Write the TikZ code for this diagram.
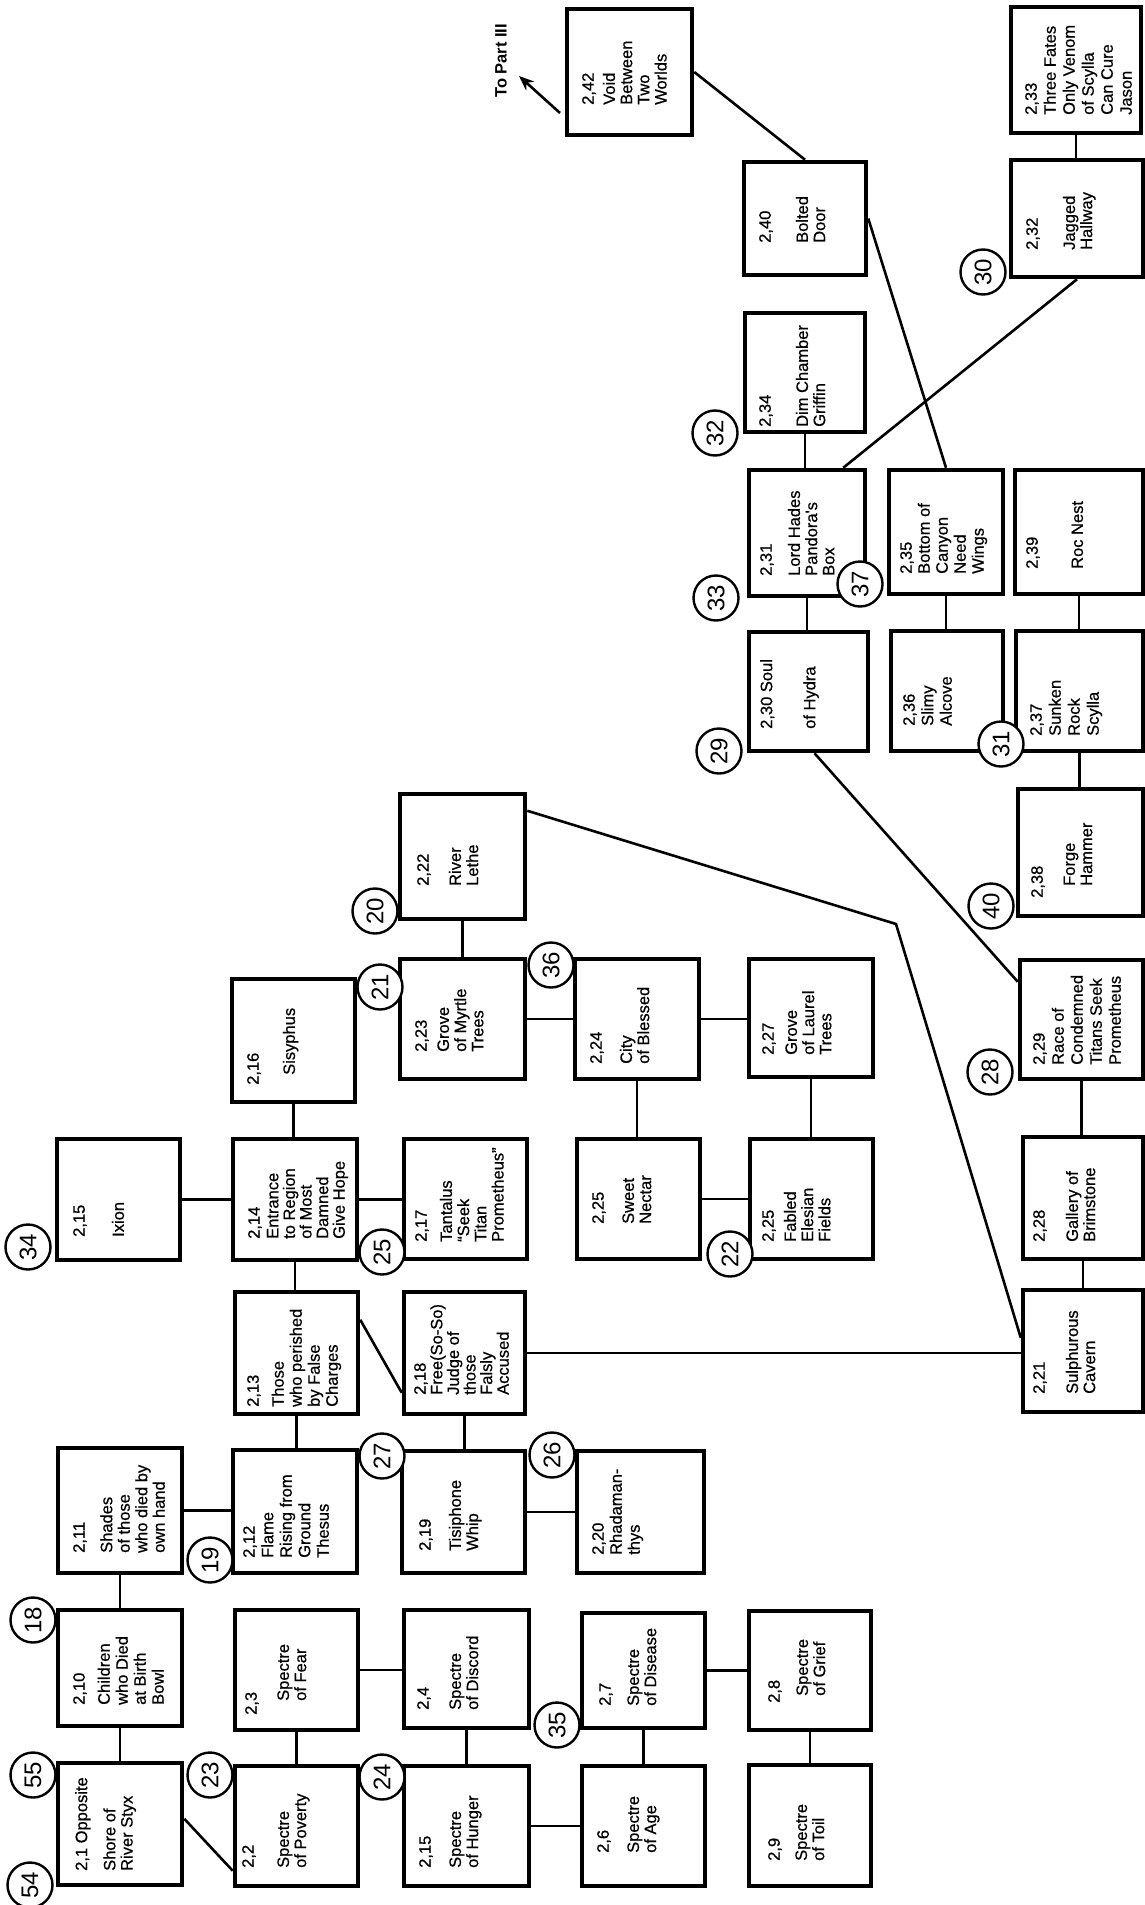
\documentclass[tikz,border=0pt]{standalone}
\usepackage{fontspec}
\setmainfont{Liberation Sans}
\newfontfamily\medfont{Liberation Sans}[FakeBold=0.6]
\usetikzlibrary{arrows.meta,calc}
\newcommand\bx[5]{\node[box,minimum width=#4pt,minimum height=#5pt] (#1) at (#2,#3) {};}
\newcommand\vcon[2]{\draw[con] (#1.south) -- (#1.south |- #2.north);}
\newcommand\hcon[2]{\draw[con] (#1.east) -- (#1.east -| #2.west);}
\begin{document}
\begin{tikzpicture}[x=1pt,y=-1pt,
  box/.style={draw, line width=4.5pt, rectangle, inner sep=0pt},
  con/.style={line width=2.6pt},
  txt/.style={rotate=90, anchor=north west, inner sep=0pt, align=left, font=\medfont\fontsize{16.5}{17.2}\selectfont},
  num/.style={circle, draw, fill=white, line width=2.4pt, minimum size=45pt, inner sep=0pt, rotate=90, font=\fontsize{24}{24}\selectfont}]
\useasboundingbox (0,0) rectangle (1145,1905);
\fill[white] (0,0) rectangle (1145,1905);

% ---------- boxes ----------
\bx{b242}{629.5}{72}{125}{126}
\bx{b240}{805}{218.5}{122}{113}
\bx{b234}{805}{372.5}{120}{119}
\bx{b233}{1076}{70}{130}{126}
\bx{b232}{1077}{218.5}{132}{117}
\bx{b231}{807}{533}{116}{126}
\bx{b230}{808.5}{691.5}{119}{119}
\bx{b235}{946}{532}{114}{124}
\bx{b236}{947}{691}{112}{120}
\bx{b239}{1079}{532}{128}{124}
\bx{b237}{1079.5}{691}{127}{120}
\bx{b238}{1080.5}{852.5}{125}{127}
\bx{b222}{462.5}{856.5}{125}{125}
\bx{b223}{462.5}{1019}{125}{120}
\bx{b224}{637}{1019}{124}{120}
\bx{b227}{811}{1018}{124}{118}
\bx{b229}{1081.5}{1019.5}{123}{119}
\bx{b215}{118.5}{1199.5}{123}{121}
\bx{b214}{295}{1199.5}{124}{121}
\bx{b216}{293.5}{1040.5}{123}{123}
\bx{b217}{465.5}{1199}{123}{120}
\bx{b225a}{638.5}{1199}{123}{120}
\bx{b225b}{811.5}{1199}{123}{120}
\bx{b228}{1083}{1198}{120}{122}
\bx{b213}{296.5}{1353}{123}{122}
\bx{b218}{464.5}{1353}{121}{122}
\bx{b221}{1083}{1351}{120}{122}
\bx{b211}{120}{1510.5}{124}{125}
\bx{b212}{295}{1511.5}{124}{123}
\bx{b219}{463.5}{1512}{123}{122}
\bx{b220}{640.5}{1512}{127}{122}
\bx{b210}{120}{1668}{124}{116}
\bx{b203}{296.5}{1670}{123}{120}
\bx{b204}{466.5}{1669}{125}{118}
\bx{b207}{643.5}{1670.5}{123}{115}
\bx{b208}{810}{1670.5}{122}{119}
\bx{b201}{120}{1824}{124}{122}
\bx{b202}{296.5}{1826}{123}{120}
\bx{b215h}{466.5}{1826}{125}{120}
\bx{b206}{643.5}{1826}{123}{120}
\bx{b209}{810}{1825.5}{122}{121}

% ---------- straight connectors ----------
\vcon{b233}{b232}
\vcon{b234}{b231}
\vcon{b231}{b230}
\vcon{b235}{b236}
\vcon{b239}{b237}
\vcon{b237}{b238}
\vcon{b222}{b223}
\vcon{b224}{b225a}
\vcon{b227}{b225b}
\vcon{b229}{b228}
\vcon{b228}{b221}
\vcon{b216}{b214}
\vcon{b214}{b213}
\vcon{b213}{b212}
\vcon{b218}{b219}
\vcon{b211}{b210}
\vcon{b210}{b201}
\vcon{b203}{b202}
\vcon{b204}{b215h}
\vcon{b207}{b206}
\vcon{b208}{b209}
\hcon{b223}{b224}
\hcon{b224}{b227}
\hcon{b225a}{b225b}
\hcon{b215}{b214}
\hcon{b214}{b217}
\hcon{b211}{b212}
\hcon{b219}{b220}
\hcon{b203}{b204}
\hcon{b215h}{b206}
\hcon{b207}{b208}

% ---------- slanted connectors ----------
\coordinate (bend) at (896,924);
\draw[con] (b242.east) -- (b240.north);
\draw[con] (b240.east) -- (b235.north);
\draw[con] (b232.south) -- ($(b231.north east)+(-24,0)$);
\draw[con] ($(b230.south)+(6,0)$) -- ($(b229.north west)+(0,24)$);
\draw[con] ($(b222.north east)+(0,19)$) -- (bend) -- ($(b221.north west)+(0,50)$);
\draw[con] (b218.east) -- (b218.east -| b221.west);
\draw[con] ($(b213.north east)+(0,30)$) -- ($(b218.north west)+(0,103)$);
\draw[con] ($(b201.north east)+(0,58)$) -- ($(b202.north west)+(0,107)$);

% ---------- arrow to part III ----------
\coordinate (arrtail) at (560,113);
\coordinate (arrtip) at (519,76);
\draw[con,-{Stealth[length=15pt,width=12pt]}] (arrtail) -- (arrtip);
\node[txt,font=\fontsize{16.5}{17.2}\selectfont\bfseries] (tpart) at (495,98) {To Part III};

% ---------- texts ----------
\node[txt] (t242) at (582,105) {2,42\\[4pt]Void\\Between\\Two\\Worlds};
\node[txt] (t240) at (759,243) {2,40\\[20pt]Bolted\\Door};
\node[txt] (t234) at (759,427) {2,34\\[20pt]Dim Chamber\\Griffin};
\node[txt,font=\medfont\fontsize{16.5}{19}\selectfont] (t233) at (1025,115) {2,33\\Three Fates\\Only Venom\\of Scylla\\Can Cure\\Jason};
\node[txt] (t232) at (1026,250) {2,32\\[20pt]Jagged\\Hallway};
\node[txt] (t231) at (760,576) {2,31\\[11pt]Lord Hades\\Pandora's\\Box};
\node[txt] (t230) at (760,729) {2,30 Soul\\[26pt]of Hydra};
\node[txt,font=\medfont\fontsize{16.5}{18}\selectfont] (t235) at (900,574) {2,35\\Bottom of\\Canyon\\Need\\Wings};
\node[txt,font=\medfont\fontsize{16.5}{18.5}\selectfont] (t236) at (903,726) {2,36\\Slimy\\Alcove};
\node[txt] (t239) at (1026,569) {2,39\\[28pt]Roc Nest};
\node[txt,font=\medfont\fontsize{16.5}{19}\selectfont] (t237) at (1030,736) {2,37\\Sunken\\Rock\\Scylla};
\node[txt] (t238) at (1031,898) {2,38\\[15pt]\hspace*{12pt}Forge\\\hspace*{12pt}Hammer};
\node[txt] (t222) at (417,886) {2,22\\[15pt]River\\Lethe};
\node[txt] (t223) at (415,1052) {2,23\\[5pt]Grove\\of Myrtle\\Trees};
\node[txt] (t224) at (590,1064) {2,24\\[13pt]City\\of Blessed};
\node[txt] (t227) at (762,1055) {2,27\\[6pt]Grove\\of Laurel\\Trees};
\node[txt,font=\medfont\fontsize{16.5}{19}\selectfont] (t229) at (1033,1065) {2,29\\Race of\\Condemned\\Titans Seek\\Prometheus};
\node[txt] (t215) at (73,1237) {2,15\\[22pt]Ixion};
\node[txt,font=\medfont\fontsize{16.5}{16.6}\selectfont] (t214) at (248,1239) {2,14\\[2pt]Entrance\\to Region\\of Most\\Damned\\Give Hope};
\node[txt] (t216) at (247,1085) {2,16\\[19pt]\hspace*{10pt}Sisyphus};
\node[txt] (t217) at (415,1242) {2,17\\[8pt]Tantalus\\“Seek\\Titan\\Prometheus”};
\node[txt] (t225a) at (592,1224) {2,25\\[13pt]Sweet\\Nectar};
\node[txt] (t225b) at (762,1242) {2,25\\[5pt]Fabled\\Elesian\\Fields};
\node[txt] (t228) at (1033,1242) {2,28\\[16pt]Gallery of\\Brimstone};
\node[txt,font=\medfont\fontsize{16.5}{18}\selectfont] (t213) at (247,1407) {2,13\\[7pt]Those\\who perished\\by False\\Charges};
\node[txt,font=\medfont\fontsize{16.5}{16.6}\selectfont] (t218) at (414,1395) {2,18\\Free(So-So)\\Judge of\\those\\Falsly\\Accused};
\node[txt] (t221) at (1033,1394) {2,21\\[16pt]Sulphurous\\Cavern};
\node[txt,font=\medfont\fontsize{16.5}{17.5}\selectfont] (t211) at (73,1553) {2,11\\[10pt]Shades\\of those\\who died by\\own hand};
\node[txt,font=\medfont\fontsize{16.5}{18.5}\selectfont] (t212) at (243,1558) {2,12\\Flame\\Rising from\\Ground\\Thesus};
\node[txt] (t219) at (419,1551) {2,19\\[13pt]Tisiphone\\Whip};
\node[txt,font=\medfont\fontsize{16.5}{18}\selectfont] (t220) at (592,1555) {2,20\\Rhadaman-\\thys};
\node[txt,font=\medfont\fontsize{16.5}{18}\selectfont] (t210) at (73,1705) {2,10\\[7pt]Children\\who Died\\at Birth\\Bowl};
\node[txt] (t203) at (245,1715) {2,3\\[15pt]\hspace*{14pt}Spectre\\\hspace*{14pt}of Fear};
\node[txt] (t204) at (417,1710) {2,4\\[15pt]Spectre\\of Discord};
\node[txt] (t207) at (599,1706) {2,7\\[11pt]Spectre\\of Disease};
\node[txt] (t208) at (768,1703) {2,8\\[11pt]\hspace*{7pt}Spectre\\\hspace*{7pt}of Grief};
\node[txt] (t201) at (75,1871) {2,1 Opposite\\[11pt]Shore of\\River Styx};
\node[txt] (t202) at (242,1868) {2,2\\[18pt]Spectre\\of Poverty};
\node[txt] (t215h) at (419,1868) {2,15\\[13pt]Spectre\\of Hunger};
\node[txt] (t206) at (597,1853) {2,6\\[13pt]Spectre\\of Age};
\node[txt] (t209) at (768,1861) {2,9\\[10pt]Spectre\\of Toil};

% ---------- circled numbers ----------
\node[num] (c54) at (30,1885) {54};
\node[num] (c55) at (33,1775) {55};
\node[num] (c18) at (33,1620) {18};
\node[num] (c19) at (210,1560) {19};
\node[num] (c23) at (210,1775) {23};
\node[num] (c24) at (382,1777) {24};
\node[num] (c27) at (382,1456) {27};
\node[num] (c26) at (552,1455) {26};
\node[num] (c35) at (557,1725) {35};
\node[num] (c25) at (382,1252) {25};
\node[num] (c21) at (380,987) {21};
\node[num] (c20) at (375,911) {20};
\node[num] (c36) at (551,965) {36};
\node[num] (c22) at (730,1254) {22};
\node[num] (c34) at (28,1247) {34};
\node[num] (c28) at (990,1072) {28};
\node[num] (c40) at (991,906) {40};
\node[num] (c31) at (1001,744) {31};
\node[num] (c29) at (719,751) {29};
\node[num] (c33) at (716,598) {33};
\node[num] (c37) at (860,584) {37};
\node[num] (c32) at (715,433) {32};
\node[num] (c30) at (983,272) {30};
\end{tikzpicture}
\end{document}
